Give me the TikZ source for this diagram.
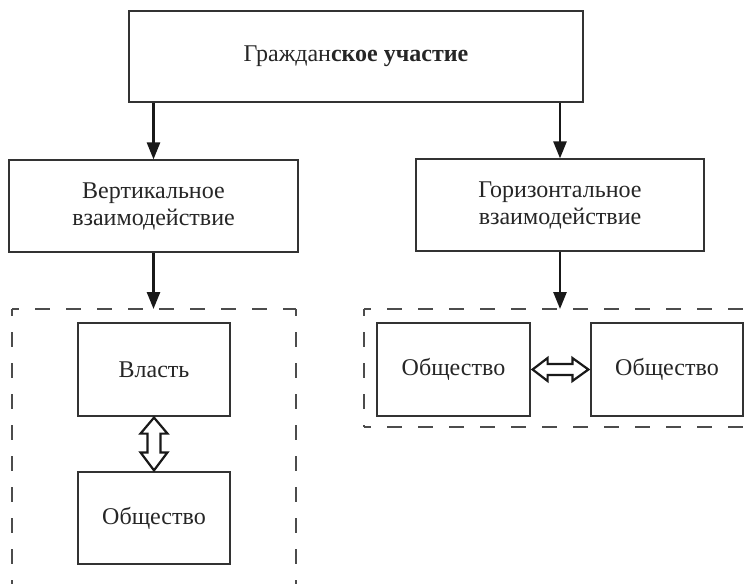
\documentclass[tikz,border=0pt]{standalone}
\usepackage{fontspec}
\setmainfont{Liberation Serif}
\usetikzlibrary{arrows.meta,calc}
\begin{document}
\begin{tikzpicture}[x=1pt,y=-1pt,
  box/.style={draw=black!80, line width=1.2pt, fill=white, align=center, inner sep=0pt, text=black!85, font=\fontsize{24}{27}\selectfont},
  arr/.style={draw=black!90, line width=2.6pt, -{Triangle[width=13pt,length=17pt]}},
  dbox/.style={draw=black!70, line width=1.3pt, dash pattern=on 15pt off 16pt, dash phase=8pt},
  dbl/.style={draw=black!90, line width=2.2pt, fill=white, line join=miter}]
\clip (0,0) rectangle (754,583);
\fill[white] (0,0) rectangle (754,583);

\node[box, minimum width=454pt, minimum height=91pt] (top) at (356,56.5) {Граждан\textbf{ское участие}};
\node[box, minimum width=289pt, minimum height=92pt] (vert) at (153.5,206) {Вертикальное\\взаимодействие};
\node[box, minimum width=288pt, minimum height=92pt] (hor) at (560,205) {Горизонтальное\\взаимодействие};
\node[box, minimum width=152pt, minimum height=93pt] (vl) at (154,369.5) {Власть};
\node[box, minimum width=152pt, minimum height=92pt] (vo) at (154,518) {Общество};
\node[box, minimum width=153pt, minimum height=93pt] (o1) at (453.5,369.5) {Общество};
\node[box, minimum width=152pt, minimum height=93pt] (o2) at (667,369.5) {Общество};

\coordinate (dl1) at (12,309);
\coordinate (dl2) at (296,309);
\coordinate (dl3) at (12,600);
\coordinate (dl4) at (296,600);
\coordinate (dr1) at (364,309);
\coordinate (dr2) at (770,309);
\coordinate (dr3) at (364,427);
\coordinate (dr4) at (770,427);
\draw[dbox] (dl1) -- (dl2);
\draw[dbox] (dl1) -- (dl3);
\draw[dbox] (dl2) -- (dl4);
\draw[dbox] (dr1) -- (dr2);
\draw[dbox] (dr1) -- (dr3);
\draw[dbox] (dr3) -- (dr4);

\draw[arr] (top.south -| vert.north) -- (vert.north);
\draw[arr] (top.south -| hor.north) -- (hor.north);
\draw[arr] (vert.south) -- (vert.south |- dl1);
\draw[arr] (hor.south) -- (hor.south |- dr1);

\draw[dbl] ($(vl.south)+(0,1)$) -- ($(vl.south)+(13.5,17)$) -- ($(vl.south)+(6.5,17)$) -- ($(vo.north)+(6.5,-19)$) -- ($(vo.north)+(13.5,-19)$) -- ($(vo.north)+(0,-1)$) -- ($(vo.north)+(-13.5,-19)$) -- ($(vo.north)+(-6.5,-19)$) -- ($(vl.south)+(-6.5,17)$) -- ($(vl.south)+(-13.5,17)$) -- cycle;

\draw[dbl] ($(o1.east)+(2,0)$) -- ($(o1.east)+(17,-11.5)$) -- ($(o1.east)+(17,-5.5)$) -- ($(o2.west)+(-18,-5.5)$) -- ($(o2.west)+(-18,-11.5)$) -- ($(o2.west)+(-2,0)$) -- ($(o2.west)+(-18,11.5)$) -- ($(o2.west)+(-18,5.5)$) -- ($(o1.east)+(17,5.5)$) -- ($(o1.east)+(17,11.5)$) -- cycle;
\end{tikzpicture}
\end{document}
